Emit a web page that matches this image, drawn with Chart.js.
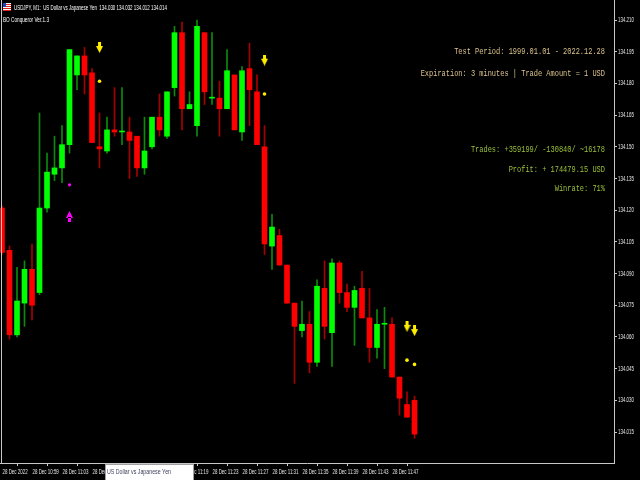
<!DOCTYPE html>
<html>
<head>
<meta charset="utf-8">
<script src="https://cdn.jsdelivr.net/npm/chart.js@4.4.1/dist/chart.umd.min.js"></script>
<style>
html,body{margin:0;padding:0;background:#000;overflow:hidden;}
canvas{display:block;}
</style>
</head>
<body>
<canvas id="c" width="640" height="480"></canvas>
<script>
// ---- data (USDJPY M1, 28 Dec 2022 10:55 - 11:50) ----
const candleIndex = [0,1,2,3,4,5,6,7,8,9,10,11,12,13,14,15,16,17,18,19,20,21,22,23,24,25,26,27,28,29,30,31,32,33,34,35,36,37,38,39,40,41,42,43,44,45,46,47,48,49,50,51,52,53,54,55];
const candleOpen  = [134.121,134.101,134.061,134.076,134.092,134.081,134.121,134.137,134.140,134.151,134.184,134.193,134.185,134.150,134.148,134.158,134.157,134.157,134.155,134.140,134.150,134.164,134.155,134.178,134.204,134.168,134.160,134.204,134.173,134.173,134.168,134.184,134.157,134.187,134.176,134.150,134.103,134.108,134.094,134.076,134.063,134.066,134.048,134.083,134.062,134.095,134.081,134.074,134.083,134.069,134.055,134.066,134.066,134.041,134.028,134.030];
const candleHigh  = [134.122,134.103,134.093,134.096,134.104,134.166,134.147,134.155,134.160,134.196,134.193,134.197,134.187,134.166,134.164,134.178,134.178,134.164,134.155,134.164,134.164,134.175,134.176,134.207,134.209,134.176,134.210,134.204,134.204,134.181,134.196,134.184,134.188,134.199,134.184,134.160,134.118,134.111,134.094,134.076,134.077,134.072,134.087,134.096,134.097,134.096,134.085,134.084,134.091,134.083,134.073,134.074,134.069,134.041,134.034,134.032];
const candleLow   = [134.099,134.059,134.060,134.065,134.068,134.080,134.119,134.134,134.133,134.147,134.177,134.175,134.152,134.140,134.147,134.155,134.151,134.135,134.136,134.137,134.149,134.155,134.154,134.174,134.158,134.168,134.155,134.170,134.170,134.155,134.168,134.158,134.153,134.160,134.151,134.099,134.092,134.094,134.076,134.038,134.060,134.043,134.046,134.059,134.046,134.076,134.072,134.056,134.069,134.048,134.050,134.045,134.041,134.023,134.022,134.012];
const candleClose = [134.100,134.061,134.077,134.092,134.075,134.121,134.138,134.140,134.151,134.196,134.193,134.184,134.152,134.149,134.158,134.157,134.157,134.153,134.140,134.148,134.164,134.158,134.176,134.204,134.168,134.170,134.207,134.176,134.173,134.168,134.186,134.158,134.186,134.177,134.151,134.104,134.112,134.094,134.076,134.065,134.066,134.048,134.084,134.065,134.095,134.081,134.074,134.082,134.069,134.055,134.066,134.066,134.041,134.031,134.022,134.014];

// signals
const sellSignalIdx   = [13, 35, 54, 55];
const sellArrowPrice  = [134.197, 134.191, 134.065, 134.063];
const sellDotPrice    = [134.181, 134.175, 134.049, 134.047];
const buySignalIdx    = [9];
const buyArrowPrice   = [134.117];
const buyDotPrice     = [134.132];

// axes
const priceTicks = [134.015,134.030,134.045,134.060,134.075,134.090,134.105,134.120,134.135,134.150,134.165,134.180,134.195,134.210];
const timeTickIdx = [0,4,8,12,16,20,24,28,32,36,40,44,48,52];
const timeLabels = ['28 Dec 2022','28 Dec 10:59','28 Dec 11:03','28 Dec 11:07','28 Dec 11:11','28 Dec 11:15','28 Dec 11:19','28 Dec 11:23','28 Dec 11:27','28 Dec 11:31','28 Dec 11:35','28 Dec 11:39','28 Dec 11:43','28 Dec 11:47'];

// texts
const headerLine1 = 'USDJPY, M1:  US Dollar vs Japanese Yen  134.030 134.032 134.012 134.014';
const headerLine2 = 'BO Conqueror Ver.1.3';
const infoLines1 = ['Test Period: 1999.01.01 - 2022.12.28', 'Expiration: 3 minutes | Trade Amount = 1 USD'];
const infoLines2 = ['Trades: +359199/ -130840/ ~16178', 'Profit: + 174479.15 USD', 'Winrate: 71%'];
const symbolTip = 'US Dollar vs Japanese Yen';

// ---- styles ----
const BULL = '#00ff00', BEAR = '#ff0000';
const BULL_WICK = '#0d8a0d', BEAR_WICK = '#a80000';
const AXIS_COL = '#c8c8c8', LABEL_COL = '#e6e6e6';
const SANS = '"Liberation Sans","DejaVu Sans",sans-serif';

function makeArrow(color, up) {
  const c = document.createElement('canvas');
  c.width = 7; c.height = 11;
  const g = c.getContext('2d');
  g.fillStyle = color;
  g.beginPath();
  if (!up) {
    g.rect(2, 0, 3, 5);
    g.moveTo(0, 4); g.lineTo(7, 4); g.lineTo(3.5, 11); g.closePath();
  } else {
    g.rect(2, 6, 3, 5);
    g.moveTo(0, 7); g.lineTo(7, 7); g.lineTo(3.5, 0); g.closePath();
  }
  g.fill();
  return c;
}
const arrowDown = makeArrow('#ffee00', false);
const arrowUp = makeArrow('#ff00ff', true);

const isBull = candleIndex.map((_, k) => candleClose[k] >= candleOpen[k]);
const bodyData = candleIndex.map((i, k) => ({x: i, y: [candleOpen[k], candleClose[k]]}));
const wickData = candleIndex.map((i, k) => ({x: i, y: [candleLow[k], candleHigh[k]]}));

const bgPlugin = {
  id: 'bg',
  beforeDraw(chart) {
    const c = chart.ctx;
    c.save(); c.fillStyle = '#000'; c.fillRect(0, 0, chart.width, chart.height); c.restore();
  }
};

function drawScaled(ctx, text, x, y, font, color, align, sx) {
  ctx.save();
  ctx.font = font;
  ctx.fillStyle = color;
  ctx.textBaseline = 'middle';
  ctx.textAlign = align;
  ctx.translate(x, y);
  ctx.scale(sx, 1);
  ctx.fillText(text, 0, 0);
  ctx.restore();
}
function fitText(ctx, text, x, y, font, color, align, width) {
  ctx.save(); ctx.font = font;
  const w = ctx.measureText(text).width;
  ctx.restore();
  drawScaled(ctx, text, x, y, font, color, align, width / w);
}
function scaleFor(ctx, font, sample, width) {
  ctx.save(); ctx.font = font;
  const w = ctx.measureText(sample).width;
  ctx.restore();
  return width / w;
}

const overlayPlugin = {
  id: 'overlay',
  afterDraw(chart) {
    const ctx = chart.ctx;
    const a = chart.chartArea;
    const xs = chart.scales.x, ys = chart.scales.y;
    // left frame line
    ctx.save();
    ctx.strokeStyle = AXIS_COL; ctx.lineWidth = 1;
    ctx.beginPath(); ctx.moveTo(1.5, 0); ctx.lineTo(1.5, a.bottom); ctx.stroke();
    ctx.restore();
    // axis labels (positions from the chart scales)
    const tickFont = '7.5px ' + SANS;
    const sxX = scaleFor(ctx, tickFont, '28 Dec 11:23', 26);
    timeTickIdx.forEach((v, k) => {
      drawScaled(ctx, timeLabels[k], xs.getPixelForValue(v) + 0.5, a.bottom + 8.5, tickFont, LABEL_COL, 'left', sxX);
    });
    const sxY = scaleFor(ctx, tickFont, '134.210', 16);
    priceTicks.forEach(v => {
      drawScaled(ctx, v.toFixed(3), a.right + 4, ys.getPixelForValue(v), tickFont, LABEL_COL, 'left', sxY);
    });
    // header icon
    ctx.save();
    ctx.fillStyle = '#ffffff'; ctx.fillRect(3, 3, 8, 8);
    ctx.fillStyle = '#e02020';
    ctx.fillRect(3, 4, 8, 1); ctx.fillRect(3, 6, 8, 1); ctx.fillRect(3, 8, 8, 1); ctx.fillRect(3, 10, 8, 1);
    ctx.fillStyle = '#2040c0'; ctx.fillRect(3, 3, 3, 4);
    ctx.restore();
    // header
    fitText(ctx, headerLine1, 14, 8, '7.5px ' + SANS, '#ffffff', 'left', 153);
    fitText(ctx, headerLine2, 3, 20, '7.5px ' + SANS, '#ffffff', 'left', 46);
    // info texts (monospace, right aligned)
    const mono = '9px "Liberation Mono","DejaVu Sans Mono",monospace';
    const charW = 4.19;
    const y1 = [52, 74];
    infoLines1.forEach((t, k) => fitText(ctx, t, 605, y1[k], mono, '#dcc48c', 'right', t.length * charW));
    const y2 = [150, 170, 189];
    infoLines2.forEach((t, k) => fitText(ctx, t, 605, y2[k], mono, '#9cc238', 'right', t.length * charW));
    // symbol tooltip box
    ctx.save();
    ctx.fillStyle = '#ffffff';
    ctx.fillRect(105, 464, 89, 16);
    ctx.strokeStyle = '#a0a0a0'; ctx.lineWidth = 1;
    ctx.strokeRect(105.5, 464.5, 88, 16);
    ctx.restore();
    fitText(ctx, symbolTip, 107, 472, '8px ' + SANS, '#3a3f5a', 'left', 64);
  }
};

new Chart(document.getElementById('c'), {
  type: 'bar',
  data: {
    datasets: [
      {
        type: 'line', label: 'sellArrow', showLine: false,
        data: sellSignalIdx.map((i, k) => ({x: i, y: sellArrowPrice[k]})),
        pointStyle: arrowDown, pointRadius: 5, order: 0
      },
      {
        type: 'line', label: 'sellDot', showLine: false,
        data: sellSignalIdx.map((i, k) => ({x: i, y: sellDotPrice[k]})),
        pointStyle: 'circle', pointRadius: 1.8, pointBackgroundColor: '#ffee00', pointBorderWidth: 0, order: 0
      },
      {
        type: 'line', label: 'buyArrow', showLine: false,
        data: buySignalIdx.map((i, k) => ({x: i, y: buyArrowPrice[k]})),
        pointStyle: arrowUp, pointRadius: 5, order: 0
      },
      {
        type: 'line', label: 'buyDot', showLine: false,
        data: buySignalIdx.map((i, k) => ({x: i, y: buyDotPrice[k]})),
        pointStyle: 'circle', pointRadius: 1.6, pointBackgroundColor: '#ff00ff', pointBorderWidth: 0, order: 0
      },
      {
        label: 'body', data: bodyData, grouped: false, barThickness: 5, minBarLength: 1,
        backgroundColor: isBull.map(b => b ? BULL : BEAR), borderWidth: 0, borderSkipped: false, order: 1
      },
      {
        label: 'wick', data: wickData, grouped: false, barThickness: 1,
        backgroundColor: isBull.map(b => b ? BULL_WICK : BEAR_WICK), borderWidth: 0, borderSkipped: false, order: 2
      }
    ]
  },
  options: {
    responsive: false,
    animation: false,
    devicePixelRatio: 1,
    layout: {padding: 0, autoPadding: false},
    plugins: {legend: {display: false}, tooltip: {enabled: false}, title: {display: false}},
    events: [],
    scales: {
      x: {
        type: 'linear', min: -0.267, max: 81.6, offset: false,
        afterBuildTicks: s => { s.ticks = timeTickIdx.map(v => ({value: v})); },
        afterFit: s => { s.height = 17; s.paddingLeft = 0; s.paddingRight = 0; s.paddingTop = 0; s.paddingBottom = 0; },
        grid: {drawOnChartArea: false, drawTicks: true, tickLength: 3, color: AXIS_COL},
        border: {display: true, color: AXIS_COL},
        ticks: {display: false, autoSkip: false, maxRotation: 0, minRotation: 0}
      },
      y: {
        position: 'right', min: 134.00033, max: 134.21947,
        afterBuildTicks: s => { s.ticks = priceTicks.map(v => ({value: v})); },
        afterFit: s => { s.width = 26; s.paddingLeft = 0; s.paddingRight = 0; s.paddingTop = 0; s.paddingBottom = 0; },
        grid: {drawOnChartArea: false, drawTicks: true, tickLength: 3, color: AXIS_COL},
        border: {display: true, color: AXIS_COL},
        ticks: {display: false}
      }
    }
  },
  plugins: [bgPlugin, overlayPlugin]
});
</script>
</body>
</html>
